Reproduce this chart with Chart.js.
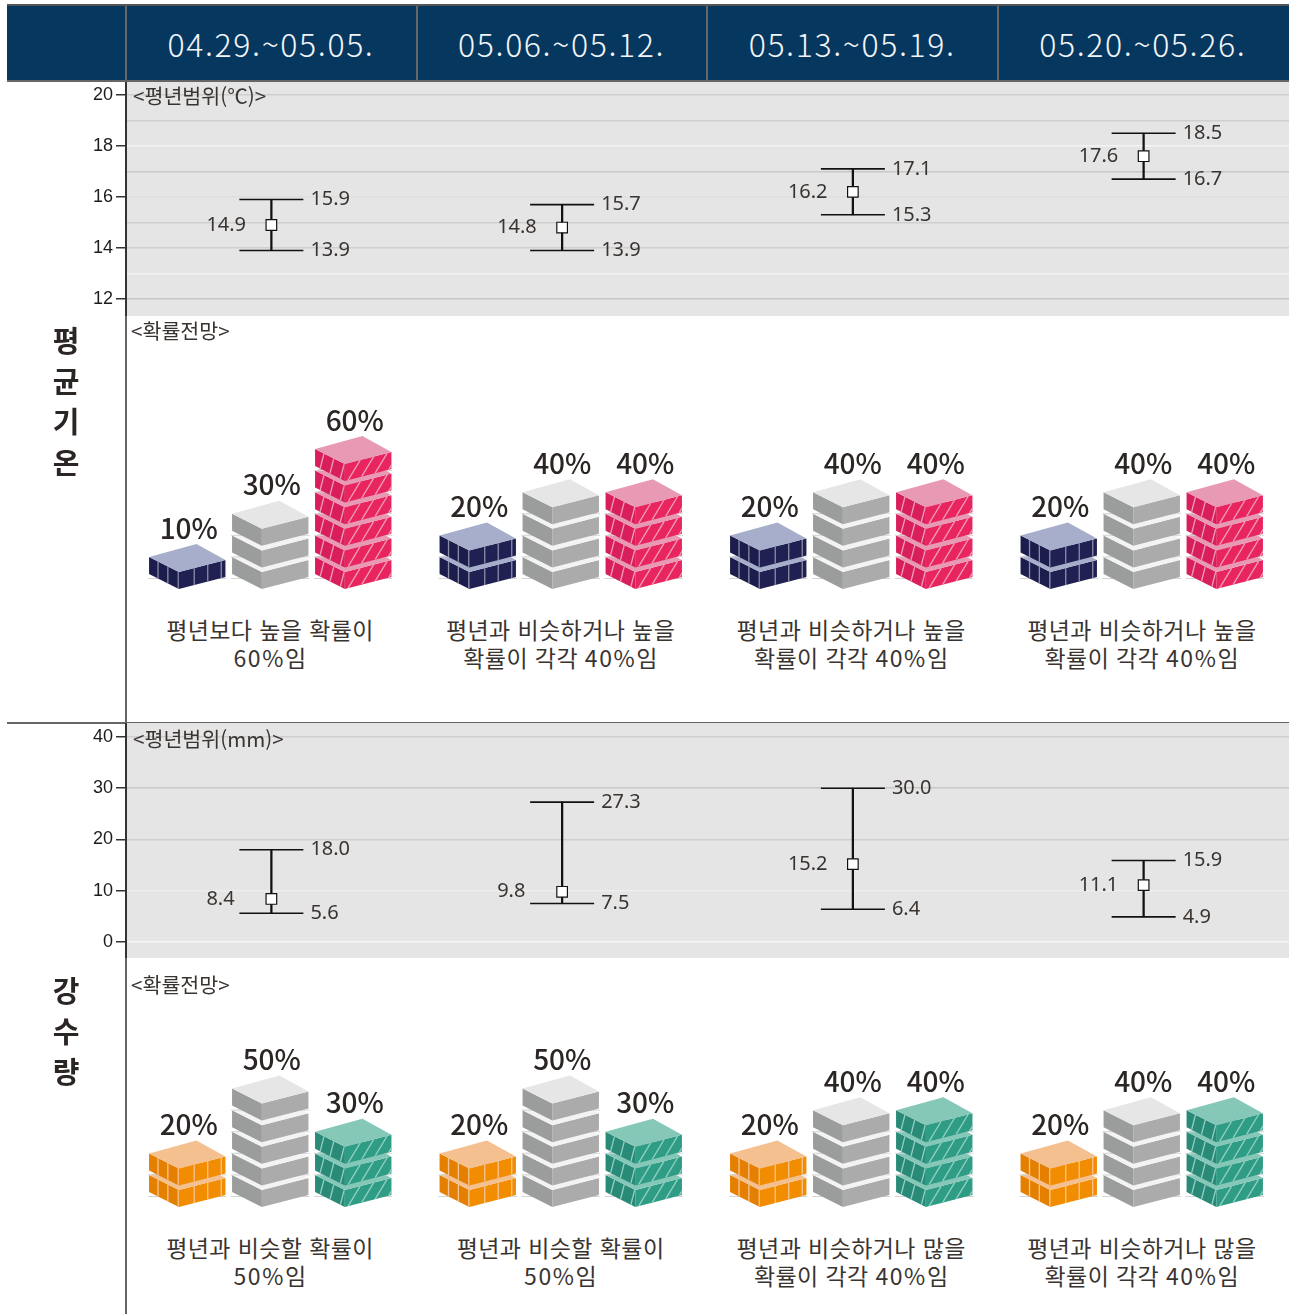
<!DOCTYPE html>
<html lang="ko">
<head>
<meta charset="utf-8">
<title>평균기온 강수량 전망</title>
<script src="https://cdn.jsdelivr.net/npm/chart.js@4"></script>
<style>
    html, body { margin: 0; padding: 0; background: #fff; }
    #page { position: relative; width: 1291px; height: 1314px; overflow: hidden; font-family: "Noto Sans CJK KR", "Noto Sans", sans-serif; color: #2b2523; }
    canvas { position: absolute; left: 0; display: block; }
    .abs { position: absolute; }
    #header { left: 7px; top: 4px; width: 1282px; height: 78px; box-sizing: border-box; background: #06375f; border-top: 2px solid #555; border-bottom: 2px solid #666; }
    .week { position: absolute; top: 15px; width: 290px; text-align: center; color: #f2f5f8; font-size: 32px; font-weight: 300; letter-spacing: 1.6px; line-height: 44px; }
    .sep { position: absolute; width: 2px; background: #666; }
    .side { position: absolute; left: 36px; width: 60px; text-align: center; font-size: 29px; font-weight: 700; line-height: 40.5px; }
    .panel-title { position: absolute; font-size: 20.6px; line-height: 28px; color: #3a3431; white-space: nowrap; }
    .caption { position: absolute; width: 290px; text-align: center; font-size: 23px; line-height: 28.4px; letter-spacing: 0.4px; color: #3a3431; white-space: nowrap; }
    .caption span { letter-spacing: 1.6px; }
</style>
</head>
<body>
<div id="page">
    <div class="abs" id="header"></div>
    <div class="sep" style="left:125px;top:316px;height:998px;"></div>
    <div class="abs" style="left:7px;top:722px;width:1282px;height:2px;background:#666;"></div>
    <canvas id="tempRange" width="1291" height="234" style="top:82px;left:-1px"></canvas>
    <canvas id="tempOdds" width="1291" height="280" style="top:320px"></canvas>
    <canvas id="rainRange" width="1291" height="235" style="top:723px;left:-1px"></canvas>
    <canvas id="rainOdds" width="1291" height="280" style="top:938px"></canvas>
    <div class="panel-title" style="left:133px;top:81px">&lt;평년범위(℃)&gt;</div>
    <div class="panel-title" style="left:131px;top:316px">&lt;확률전망&gt;</div>
    <div class="panel-title" style="left:133px;top:724px">&lt;평년범위(mm)&gt;</div>
    <div class="panel-title" style="left:131px;top:970px">&lt;확률전망&gt;</div>
    <div class="side" style="top:319px">평<br>균<br>기<br>온</div>
    <div class="side" style="top:969px">강<br>수<br>량</div>
</div>
<script>
const weeks = ['04.29.~05.05.', '05.06.~05.12.', '05.13.~05.19.', '05.20.~05.26.'];

const tempLow = [13.9, 13.9, 15.3, 16.7];
const tempMean = [14.9, 14.8, 16.2, 17.6];
const tempHigh = [15.9, 15.7, 17.1, 18.5];
const tempTicks = [12, 13, 14, 15, 16, 17, 18, 19, 20];
const tempTickLabels = [12, 14, 16, 18, 20];

const rainLow = [5.6, 7.5, 6.4, 4.9];
const rainMean = [8.4, 9.8, 15.2, 11.1];
const rainHigh = [18.0, 27.3, 30.0, 15.9];
const rainTicks = [0, 10, 20, 30, 40];
const rainTickLabels = [0, 10, 20, 30, 40];

const tempBelow = [10, 20, 20, 20];
const tempNormal = [30, 40, 40, 40];
const tempAbove = [60, 40, 40, 40];

const rainBelow = [20, 20, 20, 20];
const rainNormal = [50, 50, 40, 40];
const rainAbove = [30, 30, 40, 40];

const tempCaptions = [
    ['평년보다 높을 확률이', '60%임'],
    ['평년과 비슷하거나 높을', '확률이 각각 40%임'],
    ['평년과 비슷하거나 높을', '확률이 각각 40%임'],
    ['평년과 비슷하거나 높을', '확률이 각각 40%임']
];
const rainCaptions = [
    ['평년과 비슷할 확률이', '50%임'],
    ['평년과 비슷할 확률이', '50%임'],
    ['평년과 비슷하거나 많을', '확률이 각각 40%임'],
    ['평년과 비슷하거나 많을', '확률이 각각 40%임']
];

// grid line colours per tick, the white ones are how the original looks
const tempGrid = { 12: '#c6c6c6', 13: '#f4f4f4', 14: '#cfcfcf', 15: '#cfcfcf', 16: '#dedede', 17: '#c8c8c8', 18: '#f4f4f4', 19: '#cfcfcf', 20: '#cfcfcf' };
const rainGrid = { 0: '#f6f6f6', 10: '#eeeeee', 20: '#cfcfcf', 30: '#c8c8c8', 40: '#cfcfcf' };

const palette = {
    navy: { left: '#1d1d4d', right: '#202052', top: '#a6aecb', stripe: '#8d8ea6', skew: 0 },
    gray: { left: '#9b9d9d', right: '#ababab', top: '#e6e6e6', lower: '#f3f3f3' },
    pink: { left: '#d81f5b', right: '#e8255f', top: '#e89ab5', stripe: '#ef9fba', skew: 0.13 },
    orange: { left: '#e57f00', right: '#f28c00', top: '#f4c08f', stripe: '#f5c595', skew: 0 },
    green: { left: '#2a8a78', right: '#2f9c86', top: '#85c8b8', stripe: '#93d0c1', skew: 0.13 }
};

const columnLeft = 126;
const columnWidth = 290.6;

const chartAreaFill = {
    id: 'chartAreaFill',
    beforeDraw(chart) {
        const { ctx, chartArea } = chart;
        ctx.save();
        ctx.fillStyle = '#e5e5e5';
        ctx.fillRect(chartArea.left, chartArea.top, chartArea.width, chartArea.height);
        ctx.restore();
    }
};

// value labels next to the range bars
const rangeLabels = {
    id: 'rangeLabels',
    afterDatasetsDraw(chart) {
        const { ctx } = chart;
        const y = chart.scales.y;
        const put = (values, dx, i) => {
            ctx.fillText(values[i].toFixed(1), chart.scales.x.getPixelForValue(i) + dx, y.getPixelForValue(values[i]));
        };
        ctx.save();
        ctx.font = '20px "Noto Sans", sans-serif';
        ctx.fillStyle = '#3a3431';
        ctx.textAlign = 'left';
        ctx.textBaseline = 'middle';
        chart.data.labels.forEach((label, i) => {
            put(chart.data.datasets[1].data, 39, i);
            put(chart.data.datasets[2].data, 39, i);
            put(chart.data.datasets[3].data, -65, i);
        });
        ctx.restore();
    }
};

function strokeStripes(ctx, a, b, thickness, style, skew, fractions) {
    ctx.strokeStyle = style;
    ctx.lineWidth = 1.3;
    fractions.forEach(t => {
        const bottom = t - skew;
        ctx.beginPath();
        ctx.moveTo(a.x + (b.x - a.x) * t, a.y + (b.y - a.y) * t);
        ctx.lineTo(a.x + (b.x - a.x) * bottom, a.y + (b.y - a.y) * bottom + thickness);
        ctx.stroke();
    });
}

function fillPolygon(ctx, points, style) {
    ctx.fillStyle = style;
    ctx.beginPath();
    points.forEach((p, i) => (i ? ctx.lineTo(p.x, p.y) : ctx.moveTo(p.x, p.y)));
    ctx.closePath();
    ctx.fill();
}

function faceClip(ctx, points) {
    ctx.beginPath();
    points.forEach((p, i) => (i ? ctx.lineTo(p.x, p.y) : ctx.moveTo(p.x, p.y)));
    ctx.closePath();
    ctx.clip();
}

function drawSlab(ctx, x0, x1, yBase, yTop, colours, isTop) {
    const frontX = x0 + (x1 - x0) * 0.39;
    const apexX = x0 + (x1 - x0) * 0.62;
    const thickness = yBase - yTop;
    const left = { x: x0, y: yTop - 15 };
    const front = { x: frontX, y: yTop };
    const right = { x: x1, y: yTop - 12 };
    const apex = { x: apexX, y: yTop - 28 };
    const leftFace = [left, front, { x: frontX, y: yBase }, { x: x0, y: left.y + thickness }];
    const rightFace = [front, right, { x: x1, y: right.y + thickness }, { x: frontX, y: yBase }];

    // thin line left over behind each slab in the original
    ctx.strokeStyle = '#d4d4d4';
    ctx.lineWidth = 1;
    ctx.beginPath();
    ctx.moveTo(x0 - 1, yBase - 10.5);
    ctx.lineTo(x1 + 1, yBase - 10.5);
    ctx.stroke();

    fillPolygon(ctx, leftFace, colours.left);
    fillPolygon(ctx, rightFace, colours.right);
    if (colours.stripe) {
        ctx.save();
        faceClip(ctx, leftFace);
        strokeStripes(ctx, left, front, thickness, colours.stripe, colours.skew, [0.3, 0.63, 0.98]);
        ctx.restore();
        ctx.save();
        faceClip(ctx, rightFace);
        strokeStripes(ctx, front, right, thickness, colours.stripe, colours.skew * 2, [0.33, 0.62, 0.91, 1.2]);
        ctx.restore();
    }
    fillPolygon(ctx, [left, apex, right, front], isTop ? colours.top : (colours.lower || colours.top));
}

// each 10% of a bar is one isometric slab, sitting on the bar's own scale
const blockStacks = {
    id: 'blockStacks',
    afterDatasetsDraw(chart) {
        const { ctx } = chart;
        const y = chart.scales.y;
        ctx.save();
        chart.data.datasets.forEach((dataset, d) => {
            chart.getDatasetMeta(d).data.forEach((bar, i) => {
                const value = dataset.data[i];
                const x0 = bar.x - bar.width / 2;
                const x1 = bar.x + bar.width / 2;
                let yTop = 0;
                for (let step = 0; step < value; step += 10) {
                    const yBase = y.getPixelForValue(step);
                    yTop = y.getPixelForValue(step + 10) + 4.6;
                    drawSlab(ctx, x0, x1, yBase, yTop, dataset.blockColours, step + 10 >= value);
                }
                ctx.font = '500 28px "Noto Sans CJK KR", sans-serif';
                ctx.fillStyle = '#2b2523';
                ctx.textAlign = 'center';
                ctx.textBaseline = 'middle';
                ctx.fillText(value + '%', bar.x + 1.5, yTop - 44);
            });
        });
        ctx.restore();
    }
};

function drawRangeChart(canvasId, low, mean, high, yMin, yMax, ticks, tickLabels, gridColours) {
    const ctx = document.getElementById(canvasId).getContext('2d');
    return new Chart(ctx, {
        data: {
            labels: weeks,
            datasets: [
                { type: 'bar', data: low.map((v, i) => [v, high[i]]), backgroundColor: '#111', barThickness: 1.6, order: 3 },
                { type: 'line', data: high, showLine: false, pointStyle: 'line', pointRadius: 32, pointBorderColor: '#111', pointBorderWidth: 1.6, order: 2 },
                { type: 'line', data: low, showLine: false, pointStyle: 'line', pointRadius: 32, pointBorderColor: '#111', pointBorderWidth: 1.6, order: 2 },
                { type: 'line', data: mean, showLine: false, pointStyle: 'rect', pointRadius: 7.5, pointBackgroundColor: '#fff', pointBorderColor: '#111', pointBorderWidth: 1.2, order: 1 }
            ]
        },
        options: {
            responsive: false,
            animation: false,
            layout: { autoPadding: false, padding: { right: 1 } },
            plugins: { legend: { display: false }, tooltip: { enabled: false } },
            scales: {
                x: { display: false, offset: true },
                y: {
                    min: yMin,
                    max: yMax,
                    afterBuildTicks: axis => { axis.ticks = ticks.map(v => ({ value: v })); },
                    afterFit: axis => {
                        axis.width = 127;
                        // the grey area runs to the canvas edge, no room kept for tick labels
                        axis.paddingTop = 0;
                        axis.paddingBottom = 0;
                    },
                    border: { color: '#333', width: 2 },
                    grid: {
                        lineWidth: 1.5,
                        tickLength: 10,
                        tickWidth: 1.5,
                        color: c => gridColours[c.tick.value],
                        tickColor: c => (tickLabels.includes(c.tick.value) ? '#333' : 'rgba(0,0,0,0)')
                    },
                    ticks: {
                        autoSkip: false,
                        padding: 3,
                        color: '#1c1c1c',
                        font: { family: '"Liberation Sans", Arial, sans-serif', size: 18 },
                        callback: value => (tickLabels.includes(value) ? value : '')
                    }
                }
            }
        },
        plugins: [chartAreaFill, rangeLabels]
    });
}

function drawOddsChart(canvasId, below, normal, above, belowColours, aboveColours) {
    const ctx = document.getElementById(canvasId).getContext('2d');
    const series = [
        { data: below, blockColours: belowColours },
        { data: normal, blockColours: palette.gray },
        { data: above, blockColours: aboveColours }
    ];
    return new Chart(ctx, {
        type: 'bar',
        data: {
            labels: weeks,
            datasets: series.map(s => ({ ...s, backgroundColor: 'rgba(0,0,0,0)', categoryPercentage: 0.857, barPercentage: 0.92 }))
        },
        options: {
            responsive: false,
            animation: false,
            layout: { padding: { left: 125, right: 4, top: 53, bottom: 11 } },
            plugins: { legend: { display: false }, tooltip: { enabled: false } },
            scales: {
                x: { display: false },
                y: { display: false, min: 0, max: 100 }
            }
        },
        plugins: [blockStacks]
    });
}

function addColumnText() {
    const page = document.getElementById('page');
    const header = document.getElementById('header');
    weeks.forEach((week, i) => {
        const left = columnLeft + columnWidth * i;
        const label = document.createElement('div');
        label.className = 'week';
        label.textContent = week;
        label.style.left = (left - 7) + 'px';
        header.appendChild(label);

        const sep = document.createElement('div');
        sep.className = 'sep';
        sep.style.left = (left - 8) + 'px';
        sep.style.top = '0';
        sep.style.height = '74px';
        header.appendChild(sep);

        [[tempCaptions, 615], [rainCaptions, 1233]].forEach(([captions, top]) => {
            const caption = document.createElement('div');
            caption.className = 'caption';
            caption.style.left = (left - 1) + 'px';
            caption.style.top = top + 'px';
            caption.innerHTML = captions[i].join('<br>').replace(/\d+%/, '<span>$&</span>');
            page.appendChild(caption);
        });
    });
}

addColumnText();
drawRangeChart('tempRange', tempLow, tempMean, tempHigh, 11.33, 20.51, tempTicks, tempTickLabels, tempGrid);
drawRangeChart('rainRange', rainLow, rainMean, rainHigh, -3.12, 42.73, rainTicks, rainTickLabels, rainGrid);
drawOddsChart('tempOdds', tempBelow, tempNormal, tempAbove, palette.navy, palette.pink);
drawOddsChart('rainOdds', rainBelow, rainNormal, rainAbove, palette.orange, palette.green);
</script>
</body>
</html>
